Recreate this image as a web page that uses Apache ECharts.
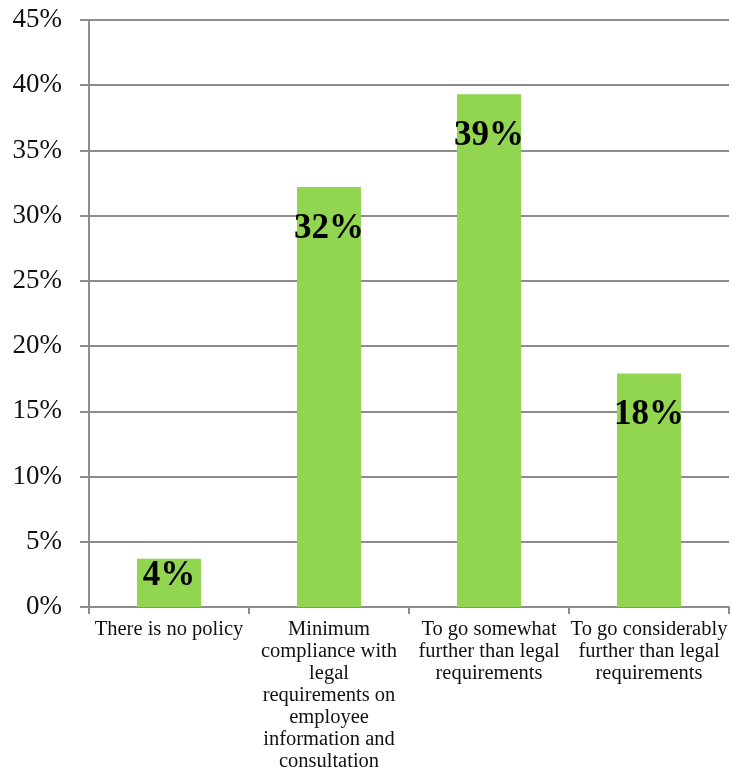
<!DOCTYPE html>
<html>
<head>
<meta charset="utf-8">
<script src="https://cdn.jsdelivr.net/npm/echarts@6/dist/echarts.min.js"></script>
<style>html,body{margin:0;padding:0;background:#fff;}#c{width:732px;height:774px;}</style>
</head>
<body>
<div id="c"></div>
<script>
var categories = [
  "There is no policy",
  "Minimum\ncompliance with\nlegal\nrequirements on\nemployee\ninformation and\nconsultation",
  "To go somewhat\nfurther than legal\nrequirements",
  "To go considerably\nfurther than legal\nrequirements"
];
var values = [3.7, 32.2, 39.3, 17.9];
var yTicks = [0, 5, 10, 15, 20, 25, 30, 35, 40, 45];

var chart = echarts.init(document.getElementById('c'));
var serif = '"Liberation Serif", "DejaVu Serif", serif';
chart.setOption({
  animation: false,
  grid: { left: 89, right: 3, top: 20, bottom: 167 },
  xAxis: {
    type: 'category',
    data: categories,
    axisLine: { lineStyle: { color: '#8c8c8c', width: 2 } },
    axisTick: { show: true, length: 7, lineStyle: { color: '#8c8c8c', width: 2 } },
    axisLabel: { interval: 0, margin: 12, color: '#111', fontFamily: serif, fontSize: 20.5, lineHeight: 22 }
  },
  yAxis: {
    type: 'value',
    min: yTicks[0],
    max: yTicks[yTicks.length - 1],
    interval: 5,
    axisLine: { show: true, lineStyle: { color: '#8c8c8c', width: 2 } },
    axisTick: { show: true, length: 9, lineStyle: { color: '#8c8c8c', width: 2 } },
    splitLine: { lineStyle: { color: '#8c8c8c', width: 2 } },
    axisLabel: { margin: 27, color: '#111', fontFamily: serif, fontSize: 27, formatter: '{value}%' }
  },
  series: [{
    type: 'bar',
    barWidth: 64,
    itemStyle: { color: '#92D550' },
    data: values.map(function (v, i) {
      return {
        value: v,
        label: {
          show: true,
          position: 'insideTop',
          distance: v < 10 ? 0 : 24,
          formatter: Math.round(v) + '%',
          color: '#000',
          fontFamily: serif,
          fontWeight: 'bold',
          fontSize: 35
        }
      };
    })
  }]
});
</script>
</body>
</html>
